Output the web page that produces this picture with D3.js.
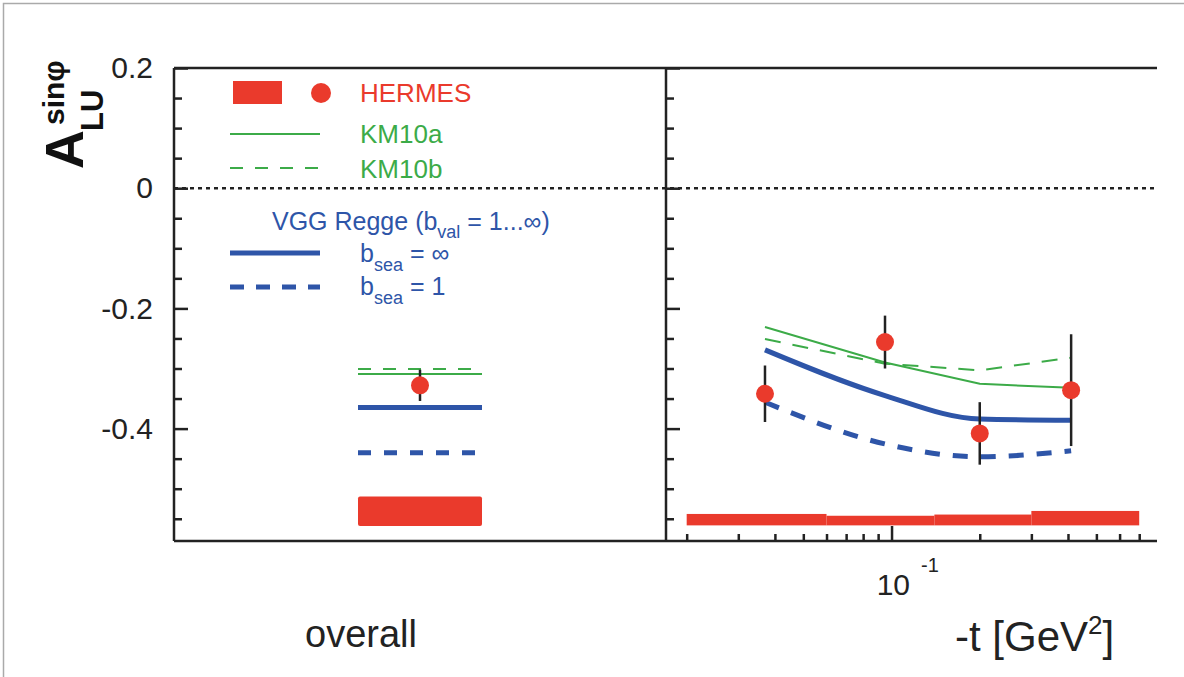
<!doctype html>
<html>
<head>
<meta charset="utf-8">
<style>
  body { margin: 0; background: #fff; }
  text { font-family: "Liberation Sans", Arial, Helvetica, sans-serif; }
</style>
<script src="https://d3js.org/d3.v7.min.js"></script>
</head>
<body>
<svg width="1184" height="677" class="svg1"></svg>
<script>
// ---- data ----
var overallCat = ["overall"];
var overallHermes = -0.328, overallErr = 0.026;
var overallBand = [-0.562, -0.513];
var overallKM10a = -0.309, overallKM10b = -0.301;
var overallVGGinf = -0.365, overallVGG1 = -0.44;

var tBins = [0.037, 0.095, 0.20, 0.41];
var hermesA = [-0.342, -0.256, -0.408, -0.336];
var hermesErr = [0.047, 0.044, 0.052, 0.093];
var km10a = [-0.231, -0.290, -0.3255, -0.332];
var km10b = [-0.251, -0.292, -0.303, -0.282];
var vggInf = [-0.269, -0.345, -0.384, -0.386];
var vgg1 = [-0.356, -0.4255, -0.447, -0.437];

var tEdges = [0.02, 0.06, 0.14, 0.3, 0.7];
var sysTop = [-0.542, -0.545, -0.543, -0.537];
var sysBottom = -0.561;

var yMajor = [0.2, 0, -0.2, -0.4];
var yMinor = [0.15, 0.1, 0.05, -0.05, -0.1, -0.15, -0.25, -0.3, -0.35, -0.45, -0.5, -0.55];
var xMinor = [0.02, 0.03, 0.04, 0.05, 0.06, 0.07, 0.08, 0.09, 0.2, 0.3, 0.4, 0.5, 0.6, 0.7];

var RED = "#ea3a2c", GREEN = "#3cab48", BLUE = "#2e55a8", INK = "#222";

var svg = d3.select(".svg1");

// outer frame of the figure
svg.append("rect").attr("x", 3.5).attr("y", 3.5).attr("width", 1190).attr("height", 690)
   .attr("fill", "none").attr("stroke", "#aaa").attr("stroke-width", 1.5);

var topY = 68, bottomY = 541, leftX = 174, midX = 666, rightX = 1157;

var y = d3.scaleLinear().domain([-0.587, 0.2]).range([bottomY, topY]);
var xL = d3.scalePoint().domain(overallCat).range([leftX, midX]).padding(0.5);
var xR = d3.scaleLog().domain([0.017, 0.805]).range([midX, rightX]);
var halfW = 62;

// axes ticks (inside)
function yTicks(x0) {
  var g = svg.append("g").attr("transform", "translate(" + x0 + ",0)");
  g.append("g").call(d3.axisRight(y).tickValues(yMajor).tickSize(14).tickFormat(""));
  g.append("g").call(d3.axisRight(y).tickValues(yMinor).tickSize(8).tickFormat(""));
  g.selectAll(".domain").remove();
  g.selectAll("line").attr("stroke", INK).attr("stroke-width", 2.5);
}
yTicks(leftX);
yTicks(midX);

var yl = svg.append("g").attr("transform", "translate(" + leftX + ",0)")
  .call(d3.axisLeft(y).tickValues(yMajor).tickSize(0).tickPadding(21)
        .tickFormat(function(d){ return d === 0 ? "0" : d3.format(".1f")(d).replace("\u2212", "-"); }));
yl.select(".domain").remove();
yl.selectAll("text").attr("font-size", 30).attr("fill", INK).attr("font-family", "Liberation Sans, Arial, sans-serif");

var xa = svg.append("g").attr("transform", "translate(0," + bottomY + ")");
xa.append("g").call(d3.axisTop(xR).tickValues(xMinor).tickSize(7).tickFormat(""));
xa.append("g").call(d3.axisTop(xR).tickValues([0.1]).tickSize(15).tickFormat(""));
xa.selectAll(".domain").remove();
xa.selectAll("line").attr("stroke", INK).attr("stroke-width", 2.5);

// zero line
svg.append("line").attr("x1", leftX).attr("x2", rightX).attr("y1", y(0)).attr("y2", y(0))
   .attr("stroke", INK).attr("stroke-width", 2.5).attr("stroke-dasharray", "4,4");

// ---- left panel: overall ----
var cx = xL("overall");
svg.append("rect").attr("x", cx - halfW).attr("width", 2 * halfW)
   .attr("y", y(overallBand[1])).attr("height", y(overallBand[0]) - y(overallBand[1]))
   .attr("rx", 2).attr("fill", RED);
function hline(v, color, w, dash) {
  svg.append("line").attr("x1", cx - halfW).attr("x2", cx + halfW).attr("y1", y(v)).attr("y2", y(v))
     .attr("stroke", color).attr("stroke-width", w).attr("stroke-dasharray", dash || null);
}
hline(overallKM10b, GREEN, 2, "13,12");
hline(overallKM10a, GREEN, 2);
hline(overallVGGinf, BLUE, 5);
hline(overallVGG1, BLUE, 5, "13,13");
svg.append("line").attr("x1", cx).attr("x2", cx).attr("y1", y(overallHermes + overallErr)).attr("y2", y(overallHermes - overallErr))
   .attr("stroke", INK).attr("stroke-width", 2.5);
svg.append("circle").attr("cx", cx).attr("cy", y(overallHermes)).attr("r", 9).attr("fill", RED);

// ---- right panel: -t dependence ----
svg.selectAll(".sys").data(sysTop).enter().append("rect").attr("class", "sys")
   .attr("x", function(d, i){ return xR(tEdges[i]); })
   .attr("width", function(d, i){ return xR(tEdges[i + 1]) - xR(tEdges[i]); })
   .attr("y", function(d){ return y(d); })
   .attr("height", function(d){ return y(sysBottom) - y(d); })
   .attr("fill", RED);

function curve(vals, color, w, dash, kind) {
  var line = d3.line().x(function(d, i){ return xR(tBins[i]); }).y(function(d){ return y(d); })
                      .curve(kind || d3.curveMonotoneX);
  svg.append("path").attr("d", line(vals)).attr("fill", "none").attr("stroke", color)
     .attr("stroke-width", w).attr("stroke-dasharray", dash || null);
}
curve(km10a, GREEN, 2, null, d3.curveLinear);
curve(km10b, GREEN, 2, "16,12", d3.curveLinear);
curve(vggInf, BLUE, 5);
curve(vgg1, BLUE, 5, "15,13");

svg.selectAll(".err").data(hermesA).enter().append("line").attr("class", "err")
   .attr("x1", function(d, i){ return xR(tBins[i]); }).attr("x2", function(d, i){ return xR(tBins[i]); })
   .attr("y1", function(d, i){ return y(d + hermesErr[i]); }).attr("y2", function(d, i){ return y(d - hermesErr[i]); })
   .attr("stroke", INK).attr("stroke-width", 2.5);
svg.selectAll(".pt").data(hermesA).enter().append("circle").attr("class", "pt")
   .attr("cx", function(d, i){ return xR(tBins[i]); }).attr("cy", function(d){ return y(d); })
   .attr("r", 9).attr("fill", RED);

// frame lines
var frame = svg.append("g").attr("stroke", INK).attr("stroke-width", 2.5).attr("fill", "none");
frame.append("line").attr("x1", leftX).attr("x2", rightX).attr("y1", topY).attr("y2", topY);
frame.append("line").attr("x1", leftX).attr("x2", rightX).attr("y1", bottomY).attr("y2", bottomY);
frame.append("line").attr("x1", leftX).attr("x2", leftX).attr("y1", topY).attr("y2", bottomY);
frame.append("line").attr("x1", midX).attr("x2", midX).attr("y1", topY).attr("y2", bottomY);

// ---- legend ----
var lg = svg.append("g");
lg.append("rect").attr("x", 233).attr("y", 81).attr("width", 49).attr("height", 23).attr("fill", RED);
lg.append("circle").attr("cx", 321).attr("cy", 93).attr("r", 10).attr("fill", RED);
lg.append("text").attr("x", 360).attr("y", 102).attr("font-size", 26).attr("fill", RED).text("HERMES");
lg.append("line").attr("x1", 230).attr("x2", 320).attr("y1", 134).attr("y2", 134).attr("stroke", GREEN).attr("stroke-width", 2);
lg.append("text").attr("x", 360).attr("y", 143).attr("font-size", 26).attr("fill", GREEN).text("KM10a");
lg.append("line").attr("x1", 230).attr("x2", 320).attr("y1", 168).attr("y2", 168).attr("stroke", GREEN).attr("stroke-width", 2).attr("stroke-dasharray", "13,12");
lg.append("text").attr("x", 360).attr("y", 178).attr("font-size", 26).attr("fill", GREEN).text("KM10b");

var vt = lg.append("text").attr("x", 272).attr("y", 230).attr("font-size", 25).attr("fill", BLUE);
vt.append("tspan").text("VGG Regge (b");
vt.append("tspan").attr("font-size", 18).attr("dy", 8).text("val");
vt.append("tspan").attr("dy", -8).text(" = 1...\u221e)");

lg.append("line").attr("x1", 230).attr("x2", 320).attr("y1", 253).attr("y2", 253).attr("stroke", BLUE).attr("stroke-width", 5);
var b1 = lg.append("text").attr("x", 360).attr("y", 262).attr("font-size", 25).attr("fill", BLUE);
b1.append("tspan").text("b");
b1.append("tspan").attr("font-size", 18).attr("dy", 9).text("sea");
b1.append("tspan").attr("dy", -9).text(" = \u221e");
lg.append("line").attr("x1", 230).attr("x2", 320).attr("y1", 287).attr("y2", 287).attr("stroke", BLUE).attr("stroke-width", 5).attr("stroke-dasharray", "14,12");
var b2 = lg.append("text").attr("x", 360).attr("y", 295).attr("font-size", 25).attr("fill", BLUE);
b2.append("tspan").text("b");
b2.append("tspan").attr("font-size", 18).attr("dy", 9).text("sea");
b2.append("tspan").attr("dy", -9).text(" = 1");

// ---- axis titles ----
var yt = svg.append("g").attr("transform", "translate(83,169) rotate(-90)").attr("fill", "#111").attr("font-weight", "bold");
yt.append("text").attr("x", 0).attr("y", 0).attr("font-size", 54).text("A");
yt.append("text").attr("x", 38).attr("y", 20).attr("font-size", 31).text("LU");
yt.append("text").attr("x", 44).attr("y", -19).attr("font-size", 30).text("sin\u03c6");

svg.append("text").attr("x", 361).attr("y", 647).attr("text-anchor", "middle").attr("font-size", 38).attr("fill", INK).text("overall");

svg.append("text").attr("x", 910).attr("y", 595).attr("text-anchor", "end").attr("font-size", 30).attr("fill", INK).text("10");
svg.append("text").attr("x", 921).attr("y", 572).attr("font-size", 20).attr("fill", INK).text("-1");

var xt = svg.append("text").attr("x", 955).attr("y", 651).attr("font-size", 42).attr("fill", INK);
xt.append("tspan").text("-t [GeV");
xt.append("tspan").attr("font-size", 26).attr("dy", -17).text("2");
xt.append("tspan").attr("dy", 17).text("]");
</script>
</body>
</html>
